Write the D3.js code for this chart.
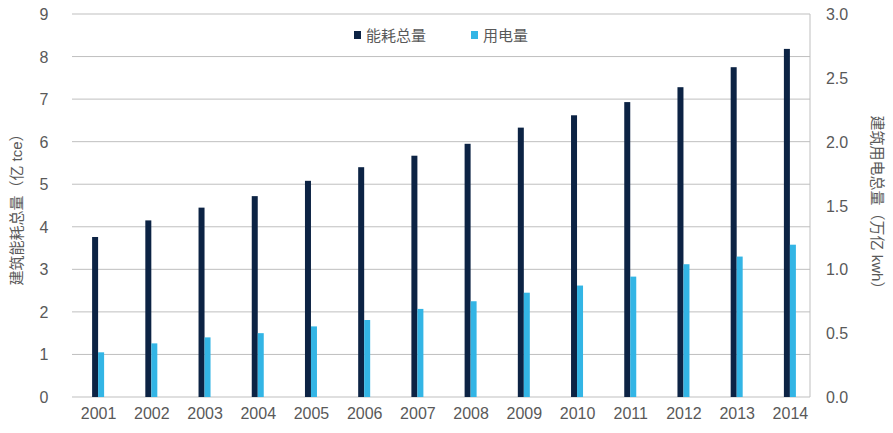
<!DOCTYPE html>
<html><head><meta charset="utf-8">
<script src="https://cdn.jsdelivr.net/npm/d3@7"></script>
<style>body{margin:0;background:#fff}text{font-family:"Liberation Sans","Noto Sans CJK SC",sans-serif;fill:#595959}</style>
</head><body><svg id="c" width="893" height="433"></svg>
<script>
const years=["2001","2002","2003","2004","2005","2006","2007","2008","2009","2010","2011","2012","2013","2014"];
const energy=[3.76,4.15,4.45,4.72,5.08,5.4,5.67,5.95,6.33,6.62,6.93,7.28,7.75,8.18];
const power=[0.35,0.42,0.467,0.5,0.553,0.603,0.69,0.75,0.817,0.873,0.943,1.04,1.1,1.193];
const leftTicks=[0,1,2,3,4,5,6,7,8,9];
const rightTicks=[0,0.5,1,1.5,2,2.5,3];
const svg=d3.select("#c");
const L=72,R=817,T=14,B=397;
const x=d3.scaleBand().domain(years).range([L,R]);
const yl=d3.scaleLinear().domain([0,9]).range([B,T]);
const yr=d3.scaleLinear().domain([0,3]).range([B,T]);
svg.append("g").selectAll("line").data(leftTicks).join("line")
 .attr("x1",L).attr("x2",R-7).attr("y1",d=>yl(d)).attr("y2",d=>yl(d)).attr("stroke","#bfbfbf").attr("stroke-width",1);
svg.append("line").attr("x1",R-7).attr("x2",R-7).attr("y1",T).attr("y2",B).attr("stroke","#bfbfbf");
svg.append("g").selectAll("text").data(leftTicks).join("text")
 .attr("x",44).attr("y",d=>yl(d)+6).attr("text-anchor","middle").attr("font-size",16).text(d=>d);
svg.append("g").selectAll("text").data(rightTicks).join("text")
 .attr("x",837).attr("y",d=>yr(d)+6).attr("text-anchor","middle").attr("font-size",16).text(d=>d.toFixed(1));
svg.append("g").selectAll("text").data(years).join("text")
 .attr("x",d=>x(d)+x.bandwidth()/2).attr("y",419).attr("text-anchor","middle").attr("font-size",16).text(d=>d);
const bw=6;
svg.append("g").selectAll("rect").data(years).join("rect")
 .attr("x",d=>x(d)+x.bandwidth()/2-bw-0.5).attr("width",bw).attr("y",(d,i)=>yl(energy[i])).attr("height",(d,i)=>B-yl(energy[i])).attr("fill","#0c2344");
svg.append("g").selectAll("rect").data(years).join("rect")
 .attr("x",d=>x(d)+x.bandwidth()/2-0.5).attr("width",bw).attr("y",(d,i)=>yr(power[i])).attr("height",(d,i)=>B-yr(power[i])).attr("fill","#33b5e5");
svg.append("text").attr("transform","translate(22,206) rotate(-90)").attr("text-anchor","middle").attr("font-size",15).text("建筑能耗总量（亿 tce）");
svg.append("text").attr("transform","translate(872,206) rotate(90)").attr("text-anchor","middle").attr("font-size",15).text("建筑用电总量（万亿 kwh）");
svg.append("rect").attr("x",354).attr("y",31).attr("width",7).attr("height",8).attr("fill","#0c2344");
svg.append("text").attr("x",366).attr("y",41).attr("font-size",15).text("能耗总量");
svg.append("rect").attr("x",471).attr("y",31).attr("width",7).attr("height",8).attr("fill","#33b5e5");
svg.append("text").attr("x",483).attr("y",41).attr("font-size",15).text("用电量");
</script></body></html>
